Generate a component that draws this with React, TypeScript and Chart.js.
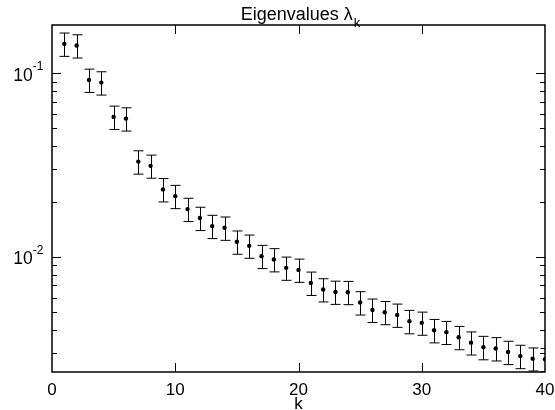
import { useEffect, useRef } from "react";
import { Chart, registerables } from "chart.js";

Chart.register(...registerables);

const ks = [
  1, 2, 3, 4, 5, 6, 7, 8, 9, 10, 11, 12, 13, 14, 15, 16, 17, 18, 19, 20,
  21, 22, 23, 24, 25, 26, 27, 28, 29, 30, 31, 32, 33, 34, 35, 36, 37, 38, 39, 40,
];

const eigenvalues = [
  0.1445, 0.1414, 0.0919, 0.0889, 0.0578, 0.0566, 0.033, 0.0313, 0.0233, 0.0214,
  0.0182, 0.01626, 0.0147, 0.01439, 0.01208, 0.01148, 0.01009, 0.00968, 0.00871, 0.00849,
  0.00721, 0.00664, 0.00644, 0.00642, 0.00564, 0.00514, 0.00499, 0.00483, 0.00446, 0.00437,
  0.00398, 0.00389, 0.00365, 0.00341, 0.00322, 0.00317, 0.00303, 0.00288, 0.00279, 0.00277,
];

const errors = [
  0.021, 0.0205, 0.0133, 0.0129, 0.0084, 0.0082, 0.0048, 0.0045, 0.0034, 0.0031,
  0.00264, 0.00236, 0.00213, 0.00209, 0.00175, 0.00166, 0.00146, 0.0014, 0.00126, 0.00123,
  0.00105, 0.00096, 0.00093, 0.00093, 0.00082, 0.00075, 0.00072, 0.0007, 0.00065, 0.00063,
  0.00058, 0.00056, 0.00053, 0.00049, 0.00047, 0.00046, 0.00044, 0.00042, 0.0004, 0.0004,
];

const xTicks = [0, 10, 20, 30, 40];
const xTickLabels = ["0", "10", "20", "30", "40"];
const yMajorTicks = [0.01, 0.1];
const yMajorExponents = ["-2", "-1"];
const yMinorTicks = [
  0.003, 0.004, 0.005, 0.006, 0.007, 0.008, 0.009,
  0.02, 0.03, 0.04, 0.05, 0.06, 0.07, 0.08, 0.09,
];

const X_MIN = 0;
const X_MAX = 40;
const Y_MIN = 0.00236;
const Y_MAX = 0.183;

const FONT = '"Liberation Sans", Arial, Helvetica, sans-serif';

const decorPlugin = {
  id: "decor",
  beforeDatasetsDraw(chart: any) {
    const { ctx, chartArea } = chart;
    const xs = chart.scales.x;
    const ys = chart.scales.y;
    ctx.save();
    ctx.beginPath();
    ctx.rect(chartArea.left, chartArea.top, chartArea.right - chartArea.left, chartArea.bottom - chartArea.top);
    ctx.clip();
    ctx.strokeStyle = "#000";
    ctx.lineWidth = 1;
    const cap = 5;
    ks.forEach((k, i) => {
      const px = Math.round(xs.getPixelForValue(k)) + 0.5;
      const top = ys.getPixelForValue(eigenvalues[i] + errors[i]);
      const bot = ys.getPixelForValue(eigenvalues[i] - errors[i]);
      ctx.beginPath();
      ctx.moveTo(px, top);
      ctx.lineTo(px, bot);
      ctx.moveTo(px - cap, top);
      ctx.lineTo(px + cap, top);
      ctx.moveTo(px - cap, bot);
      ctx.lineTo(px + cap, bot);
      ctx.stroke();
    });
    ctx.restore();
  },
  afterDatasetsDraw(chart: any) {
    const { ctx, chartArea } = chart;
    const xs = chart.scales.x;
    const ys = chart.scales.y;
    const { left, right, top, bottom } = chartArea;
    ctx.save();
    ctx.strokeStyle = "#000";
    ctx.fillStyle = "#000";

    // ticks
    ctx.lineWidth = 1;
    const major = 9;
    const minor = 5;
    ctx.beginPath();
    xTicks.forEach((v) => {
      if (v === X_MIN || v === X_MAX) return;
      const px = Math.round(xs.getPixelForValue(v)) + 0.5;
      ctx.moveTo(px, bottom);
      ctx.lineTo(px, bottom - major);
      ctx.moveTo(px, top);
      ctx.lineTo(px, top + major);
    });
    yMajorTicks.forEach((v) => {
      const py = Math.round(ys.getPixelForValue(v)) + 0.5;
      ctx.moveTo(left, py);
      ctx.lineTo(left + major, py);
      ctx.moveTo(right, py);
      ctx.lineTo(right - major, py);
    });
    yMinorTicks.forEach((v) => {
      const py = Math.round(ys.getPixelForValue(v)) + 0.5;
      ctx.moveTo(left, py);
      ctx.lineTo(left + minor, py);
      ctx.moveTo(right, py);
      ctx.lineTo(right - minor, py);
    });
    ctx.stroke();

    // frame
    ctx.lineWidth = 1.5;
    ctx.strokeRect(left, top, right - left, bottom - top);

    // x tick labels
    ctx.font = `17px ${FONT}`;
    ctx.textAlign = "center";
    ctx.textBaseline = "alphabetic";
    xTicks.forEach((v, i) => {
      ctx.fillText(xTickLabels[i], xs.getPixelForValue(v), bottom + 23);
    });

    // x axis title
    ctx.fillText("k", (left + right) / 2, bottom + 36.5);

    // y tick labels
    yMajorTicks.forEach((v, i) => {
      const py = ys.getPixelForValue(v);
      ctx.font = `12px ${FONT}`;
      const supW = ctx.measureText(yMajorExponents[i]).width;
      const rightEdge = left - 8.5;
      ctx.textAlign = "right";
      ctx.fillText(yMajorExponents[i], rightEdge, py - 3);
      ctx.font = `17.5px ${FONT}`;
      ctx.fillText("10", rightEdge - supW, py + 7.5);
    });

    // title
    const main = "Eigenvalues λ";
    const sub = "k";
    ctx.font = `18px ${FONT}`;
    const mw = ctx.measureText(main).width;
    ctx.font = `13px ${FONT}`;
    const sw = ctx.measureText(sub).width;
    const cx = (left + right) / 2 + 1.5;
    const startX = cx - (mw + sw) / 2;
    ctx.textAlign = "left";
    ctx.font = `18px ${FONT}`;
    ctx.fillText(main, startX, top - 5);
    ctx.font = `13px ${FONT}`;
    ctx.fillText(sub, startX + mw + 1, top + 2);

    ctx.restore();
  },
};

export default function App() {
  const canvasRef = useRef<HTMLCanvasElement | null>(null);

  useEffect(() => {
    if (!canvasRef.current) return;
    const chart = new Chart(canvasRef.current, {
      type: "scatter",
      data: {
        datasets: [
          {
            label: "Eigenvalues",
            data: ks.map((k, i) => ({ x: k, y: eigenvalues[i] })),
            backgroundColor: "#000",
            borderColor: "#000",
            pointRadius: 2.2,
            pointBorderWidth: 0,
            showLine: false,
          },
        ],
      },
      options: {
        animation: false,
        responsive: true,
        maintainAspectRatio: false,
        devicePixelRatio: 1,
        layout: { padding: { left: 52, right: 10, top: 25, bottom: 38 } },
        plugins: {
          legend: { display: false },
          title: { display: false },
          tooltip: { enabled: false },
        },
        scales: {
          x: { type: "linear", min: X_MIN, max: X_MAX, display: false },
          y: { type: "logarithmic", min: Y_MIN, max: Y_MAX, display: false },
        },
      },
      plugins: [decorPlugin],
    });
    return () => chart.destroy();
  }, []);

  return (
    <div style={{ position: "absolute", left: 0, top: 0, width: 555, height: 410, background: "#fff" }}>
      <canvas ref={canvasRef} />
    </div>
  );
}
